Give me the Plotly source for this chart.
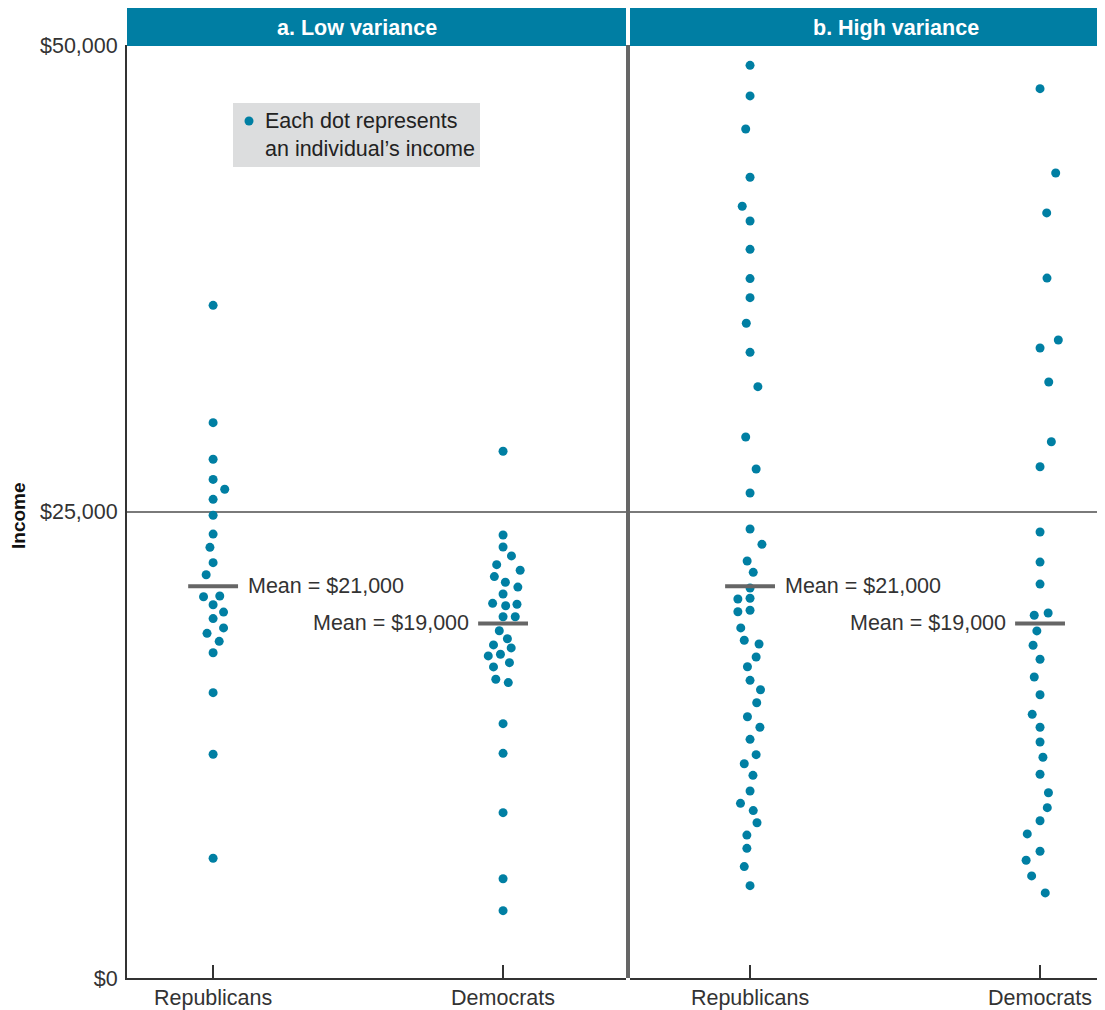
import plotly.graph_objects as go

# ---------------- data ----------------
categories = ["Republicans", "Democrats"]
panel_titles = ["<b>a.</b> <b>Low variance</b>", "<b>b.</b> <b>High variance</b>"]
y_tickvals = [0, 25000, 50000]
y_ticktext = ["$0", "$25,000", "$50,000"]

low_rep = [36050, 29760, 27800, 26720, 26190, 25650, 24800, 23790, 23080, 22260, 21610,
           20430, 20470, 20000, 19610, 19260, 18760, 18470, 18040, 17430, 15290, 11990, 6420]
low_rep_jitter = [0, 0, 0, 0, 0.040, 0, 0, 0, -0.011, 0, -0.024, -0.033, 0.023, 0, 0.036,
                  0, 0.036, -0.021, 0.021, 0, 0, 0, 0]

low_dem = [28230, 23740, 23100, 22620, 22150, 21850, 21510, 21210, 20950, 20580, 20080,
           19950, 20030, 19360, 19360, 18610, 18180, 17850, 17690, 17260, 17350, 16900,
           16670, 16010, 15830, 13630, 12040, 8860, 5320, 3610]
low_dem_jitter = [0, 0, 0, 0.029, -0.022, 0.059, -0.030, 0.008, 0.051, 0, -0.036, 0.009,
                  0.048, 0, 0.042, -0.013, 0.015, -0.033, 0.028, -0.051, -0.009, 0.022,
                  -0.033, -0.025, 0.018, 0, 0, 0, 0, 0]

high_rep = [48910, 47270, 45500, 42910, 41360, 40570, 39050, 37480, 36460, 35090, 33530,
            31690, 28990, 27280, 25990, 24060, 23240, 22350, 21740, 20900, 20310, 20350,
            19630, 19710, 18760, 18100, 17900, 17200, 16680, 15950, 15450, 14750, 14000,
            13440, 12790, 11970, 11480, 10860, 10020, 9360, 8970, 8320, 7660, 6950, 5970, 4950]
high_rep_jitter = [0, 0, -0.015, 0, -0.027, 0, 0, 0, 0, -0.013, 0, 0.027, -0.015, 0.021,
                   0, 0, 0.041, -0.010, 0.011, 0, -0.042, 0, -0.042, 0, -0.032, -0.020,
                   0.031, 0.021, -0.009, 0, 0.036, 0.023, -0.009, 0.034, 0, 0.021, -0.020,
                   0.010, 0, -0.033, 0.011, 0.024, -0.011, -0.011, -0.020, 0]

high_dem = [47660, 43140, 41000, 37510, 33760, 34190, 31940, 28740, 27400, 23900, 22290,
            21110, 19440, 19560, 18600, 17830, 17080, 16130, 15180, 14130, 13440, 12650,
            11830, 10920, 9930, 9130, 8430, 7720, 6790, 6310, 5470, 4560]
high_dem_jitter = [0, 0.054, 0.023, 0.024, 0, 0.063, 0.030, 0.039, 0, 0, 0, 0, -0.020,
                   0.028, -0.011, -0.024, 0, -0.020, 0, -0.027, 0, 0, 0.010, 0, 0.029,
                   0.025, 0, -0.044, 0, -0.048, -0.029, 0.018]

means = [21000, 19000]  # Republicans, Democrats (same in both panels)
mean_labels = ["Mean = $21,000", "Mean = $19,000"]

# ---------------- style ----------------
DOT = "#007FA3"
HEAD = "#007EA3"
GREY = "#666666"
TXT = "#333333"
FONT = "Liberation Sans, Arial, sans-serif"
FS = 21.5

fig = go.Figure()

panels = [
    ("x", [(low_rep, low_rep_jitter), (low_dem, low_dem_jitter)]),
    ("x2", [(high_rep, high_rep_jitter), (high_dem, high_dem_jitter)]),
]
for xa, groups in panels:
    for ci, (vals, jit) in enumerate(groups):
        pos = ci + 1
        fig.add_trace(go.Scatter(
            x=[pos + j for j in jit], y=vals, mode="markers",
            marker=dict(size=9, color=DOT, line=dict(width=0)),
            xaxis=xa, yaxis="y", showlegend=False, hoverinfo="y"))
    for ci, m in enumerate(means):
        pos = ci + 1
        fig.add_trace(go.Scatter(
            x=[pos - 0.086, pos + 0.086], y=[m, m], mode="lines",
            line=dict(color=GREY, width=4), xaxis=xa, yaxis="y",
            showlegend=False, hoverinfo="skip"))
    for ci, (m, lab) in enumerate(zip(means, mean_labels)):
        pos = ci + 1
        if ci == 0:
            fig.add_annotation(x=pos + 0.112, y=m, xref=xa, yref="y", text=lab,
                               showarrow=False, xanchor="left", yanchor="middle",
                               font=dict(family=FONT, size=FS, color=TXT))
        else:
            fig.add_annotation(x=pos - 0.112, y=m, xref=xa, yref="y", text=lab,
                               showarrow=False, xanchor="right", yanchor="middle",
                               font=dict(family=FONT, size=FS, color=TXT))

# page has an 8px body margin: figure origin sits at screen (8, 8)
OFF = 8
W, H = 1097, 1002
L, R, T, B = 119, 0, 37, 32
pw, ph = W - L - R, H - T - B

def px(xs):
    """screen x pixel -> paper fraction"""
    return (xs - OFF - L) / pw

def py(ys):
    """screen y pixel -> paper fraction"""
    return (H - B - (ys - OFF)) / ph

xcommon = dict(
    tickmode="array", tickvals=[1, 2], ticktext=categories,
    ticks="inside", ticklen=13, tickwidth=1.5, tickcolor="#333",
    showline=True, linecolor="#333", linewidth=2, showgrid=False, zeroline=False,
    tickfont=dict(family=FONT, size=FS, color=TXT), ticklabelstandoff=-1,
    fixedrange=True, automargin=False,
)

fig.update_layout(
    width=W, height=H,
    margin=dict(l=L, r=R, t=T, b=B, pad=0, autoexpand=False),
    paper_bgcolor="white", plot_bgcolor="white",
    xaxis=dict(domain=[0, px(626)], range=[0.703, 2.424], **xcommon),
    xaxis2=dict(domain=[px(630), 1], range=[0.586, 2.224], anchor="y", **xcommon),
    yaxis=dict(range=[0, 50000], tickmode="array", tickvals=y_tickvals,
               ticktext=y_ticktext, showline=True, linecolor="#333", linewidth=2,
               showgrid=True, gridcolor="#7a7a7a", gridwidth=1.5, zeroline=False,
               ticks="", ticklabelstandoff=3, automargin=False,
               tickfont=dict(family=FONT, size=FS, color=TXT), fixedrange=True),
    showlegend=False,
)

shapes = []
for x0, x1 in [(px(127), px(626)), (px(630), 1)]:
    shapes.append(dict(type="rect", xref="paper", yref="paper", x0=x0, x1=x1,
                       y0=py(46), y1=py(7.5), fillcolor=HEAD, line=dict(width=0),
                       layer="above"))
shapes.append(dict(type="rect", xref="paper", yref="paper", x0=px(626), x1=px(630),
                   y0=0, y1=py(45), fillcolor=GREY, line=dict(width=0), layer="above"))
shapes.append(dict(type="rect", xref="paper", yref="paper", x0=px(233), x1=px(480),
                   y0=py(167), y1=py(103), fillcolor="#DCDDDE", line=dict(width=0),
                   layer="below"))
shapes.append(dict(type="circle", xref="paper", yref="paper", x0=px(244.5), x1=px(253.5),
                   y0=py(125.5), y1=py(116.5), fillcolor=DOT, line=dict(width=0),
                   layer="above"))
fig.update_layout(shapes=shapes)

for title, xc in zip(panel_titles, [357, 895.5]):
    fig.add_annotation(x=px(xc), y=py(27.5), xref="paper", yref="paper", text=title,
                       showarrow=False, xanchor="center", yanchor="middle",
                       font=dict(family=FONT, size=FS, color="white"))
fig.add_annotation(x=px(263), y=py(134.5), xref="paper", yref="paper",
                   text="Each dot represents<br>an individual’s income",
                   showarrow=False, xanchor="left", yanchor="middle", align="left",
                   font=dict(family=FONT, size=FS, color="#222"))
fig.add_annotation(x=px(18), y=py(516), xref="paper", yref="paper", text="<b>Income</b>",
                   textangle=-90, showarrow=False, xanchor="center", yanchor="middle",
                   font=dict(family=FONT, size=19, color="#111"))

fig.write_html("out.html")
